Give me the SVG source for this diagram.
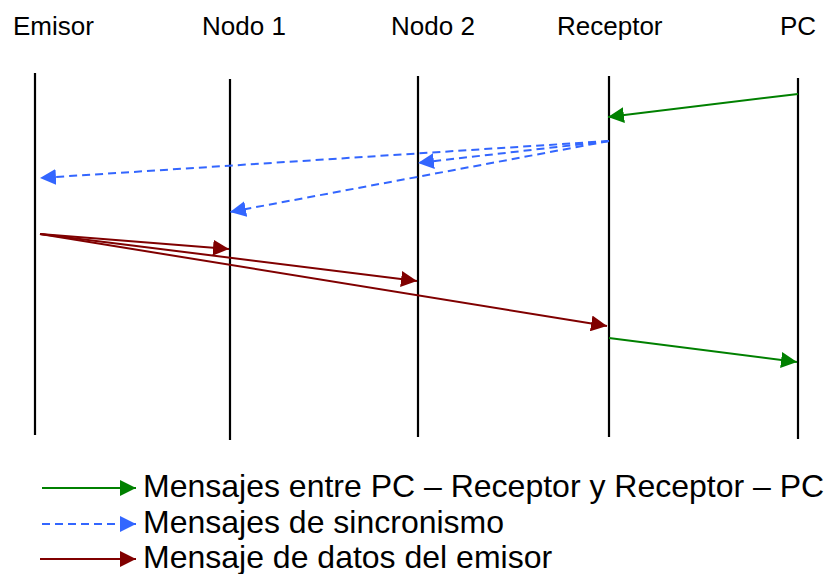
<svg xmlns="http://www.w3.org/2000/svg" width="825" height="574" viewBox="0 0 825 574">
  <style>
    text { font-family: "Liberation Sans", Arial, sans-serif; fill: #000; }
    .head { font-size: 26px; }
    .legend { font-size: 32px; }
    .life { stroke: #000; stroke-width: 2.2; fill: none; }
    .msg { fill: none; stroke-width: 2; }
    .pc { stroke: #008000; marker-end: url(#arrowGreen); }
    .sync { stroke: #3366ff; stroke-dasharray: 8 5; marker-end: url(#arrowBlue); }
    .data { stroke: #800000; marker-end: url(#arrowRed); }
  </style>
  <defs>
    <marker id="arrowGreen" markerUnits="userSpaceOnUse" markerWidth="16" markerHeight="16" refX="16" refY="8" orient="auto" viewBox="0 0 16 16">
      <path d="M0,0 L16,8 L0,16 Z" fill="#008000"/>
    </marker>
    <marker id="arrowBlue" markerUnits="userSpaceOnUse" markerWidth="16" markerHeight="16" refX="16" refY="8" orient="auto" viewBox="0 0 16 16">
      <path d="M0,0 L16,8 L0,16 Z" fill="#3366ff"/>
    </marker>
    <marker id="arrowRed" markerUnits="userSpaceOnUse" markerWidth="16" markerHeight="16" refX="16" refY="8" orient="auto" viewBox="0 0 16 16">
      <path d="M0,0 L16,8 L0,16 Z" fill="#800000"/>
    </marker>
  </defs>

  <rect width="825" height="574" fill="#fff"/>

  <!-- participants with their lifelines -->
  <g id="emisor">
    <text class="head" x="13" y="35">Emisor</text>
    <line class="life" x1="35" y1="73" x2="35" y2="435"/>
  </g>
  <g id="nodo1">
    <text class="head" x="202" y="35">Nodo 1</text>
    <line class="life" x1="230" y1="79" x2="230" y2="440"/>
  </g>
  <g id="nodo2">
    <text class="head" x="391" y="35">Nodo 2</text>
    <line class="life" x1="418" y1="76" x2="418" y2="437"/>
  </g>
  <g id="receptor">
    <text class="head" x="557" y="35">Receptor</text>
    <line class="life" x1="609" y1="76" x2="609" y2="437"/>
  </g>
  <g id="pc">
    <text class="head" x="780" y="35">PC</text>
    <line class="life" x1="798" y1="78" x2="798" y2="439"/>
  </g>

  <!-- messages -->
  <g id="connectors">
    <line class="msg pc" x1="798" y1="94" x2="608" y2="117"/>
    <line class="msg sync" x1="609" y1="141" x2="40" y2="178"/>
    <line class="msg sync" x1="609" y1="141" x2="230" y2="212"/>
    <line class="msg sync" x1="609" y1="141" x2="418" y2="163"/>
    <line class="msg data" x1="40" y1="234" x2="229" y2="249"/>
    <line class="msg data" x1="40" y1="234" x2="417" y2="281"/>
    <line class="msg data" x1="40" y1="234" x2="607" y2="326"/>
    <line class="msg pc" x1="609" y1="338" x2="797" y2="362"/>
  </g>

  <!-- key -->
  <g id="legend">
    <line class="msg pc" x1="42" y1="488" x2="136" y2="488"/>
    <text class="legend" x="143" y="497">Mensajes entre PC – Receptor y Receptor – PC</text>
    <line class="msg sync" stroke-dasharray="7 5" x1="42" y1="524" x2="136" y2="524"/>
    <text class="legend" x="143" y="533">Mensajes de sincronismo</text>
    <line class="msg data" x1="40" y1="559" x2="136" y2="559"/>
    <text class="legend" x="143" y="568">Mensaje de datos del emisor</text>
  </g>
</svg>
